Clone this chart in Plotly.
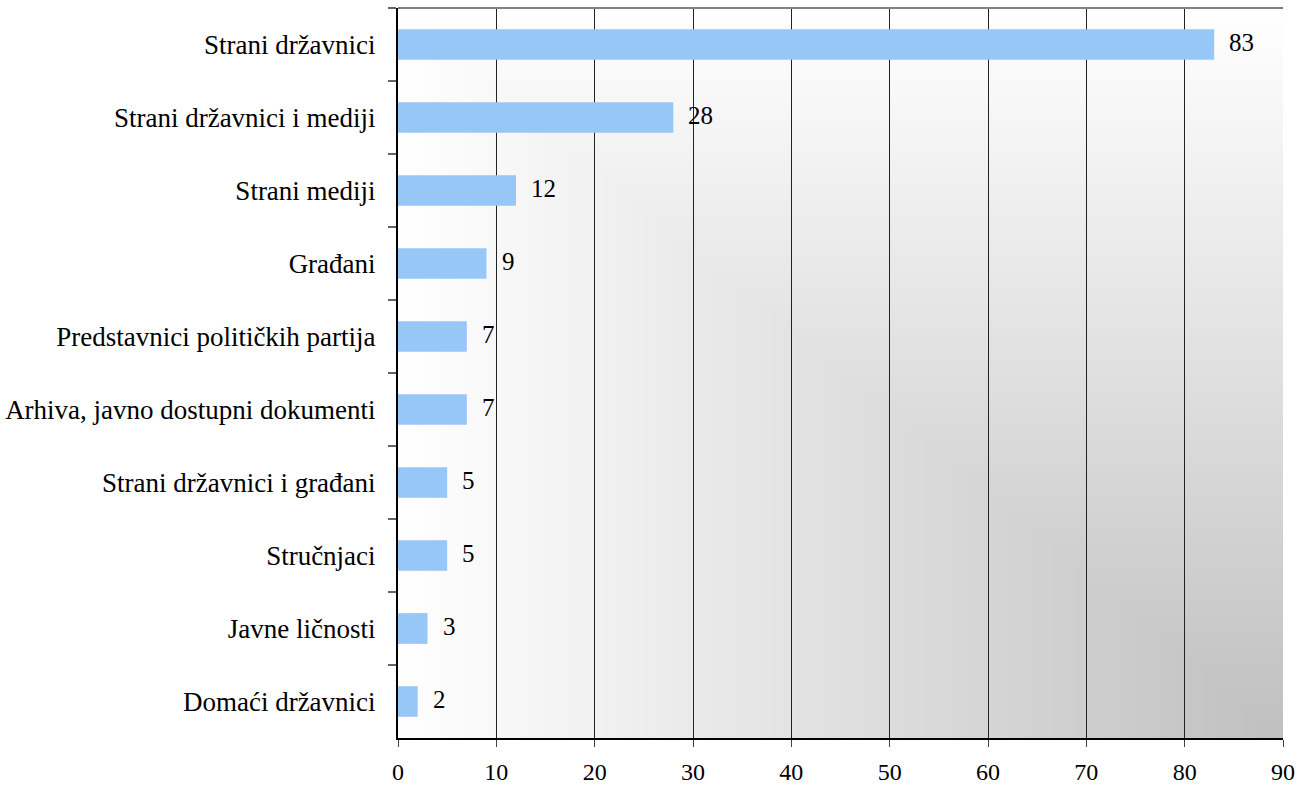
import zlib, struct, base64
import numpy as np
import plotly.graph_objects as go

categories = [
    "Strani državnici",
    "Strani državnici i mediji",
    "Strani mediji",
    "Građani",
    "Predstavnici političkih partija",
    "Arhiva, javno dostupni dokumenti",
    "Strani državnici i građani",
    "Stručnjaci",
    "Javne ličnosti",
    "Domaći državnici",
]
values = [83, 28, 12, 9, 7, 7, 5, 5, 3, 2]
x_ticks = [0, 10, 20, 30, 40, 50, 60, 70, 80, 90]

FONT = "Liberation Serif"


def gradient_png(w, h, dark=192, light=255):
    xs = np.linspace(0, 1, w)
    ys = np.linspace(0, 1, h)
    dx = 1 - xs[None, :]           # distance from right edge
    dy = 1 - ys[:, None]           # distance from bottom edge (row 0 = top)
    t = np.maximum(dx, dy)
    v = dark + (light - dark) * t
    v = np.clip(np.round(v), 0, 255).astype(np.uint8)
    raw = b"".join(b"\x00" + v[i].tobytes() for i in range(h))

    def chunk(tag, data):
        return (struct.pack(">I", len(data)) + tag + data
                + struct.pack(">I", zlib.crc32(tag + data) & 0xFFFFFFFF))

    png = (b"\x89PNG\r\n\x1a\n"
           + chunk(b"IHDR", struct.pack(">IIBBBBB", w, h, 8, 0, 0, 0, 0))
           + chunk(b"IDAT", zlib.compress(raw, 9))
           + chunk(b"IEND", b""))
    return "data:image/png;base64," + base64.b64encode(png).decode()


fig = go.Figure()
fig.add_trace(go.Bar(
    x=values,
    y=categories,
    orientation="h",
    marker=dict(color="#97C7F7", line=dict(width=0)),
    hoverinfo="x+y",
))

for c, v in zip(categories, values):
    fig.add_annotation(
        x=v, y=c, xref="x", yref="y",
        text=str(v), showarrow=False,
        xanchor="left", yanchor="middle",
        xshift=13, yshift=2,
        font=dict(family=FONT, size=25, color="black"),
    )

fig.add_layout_image(dict(
    source=gradient_png(180, 150),
    xref="x domain", yref="y domain",
    x=0, y=1, sizex=1, sizey=1,
    xanchor="left", yanchor="top",
    sizing="stretch", layer="below",
))

fig.add_shape(type="line", xref="x domain", yref="y domain",
              x0=0, x1=1, y0=1, y1=1,
              line=dict(color="#808080", width=2))

fig.update_layout(
    width=1307, height=787,
    margin=dict(l=398, r=24, t=8, b=49),
    paper_bgcolor="white",
    plot_bgcolor="rgba(0,0,0,0)",
    bargap=0.58,
    showlegend=False,
    font=dict(family=FONT, size=25, color="black"),
)
fig.update_xaxes(
    range=[0, 90],
    tickvals=x_ticks,
    ticktext=[str(t) for t in x_ticks],
    showgrid=True, gridcolor="#222222", gridwidth=1,
    showline=True, linecolor="black", linewidth=2,
    ticks="outside", ticklen=7, tickcolor="#444444", tickwidth=1,
    ticklabelstandoff=4,
    zeroline=False,
    automargin=False,
    tickfont=dict(family=FONT, size=24, color="black"),
)
fig.update_yaxes(
    type="category",
    categoryorder="array", categoryarray=categories,
    autorange="reversed",
    showgrid=False,
    showline=True, linecolor="black", linewidth=2,
    ticks="outside", ticklen=8, tickcolor="#666666", tickwidth=2,
    tickson="boundaries",
    ticklabelstandoff=15,
    automargin=False,
    tickfont=dict(family=FONT, size=27, color="black"),
)

fig.write_html("out.html")
